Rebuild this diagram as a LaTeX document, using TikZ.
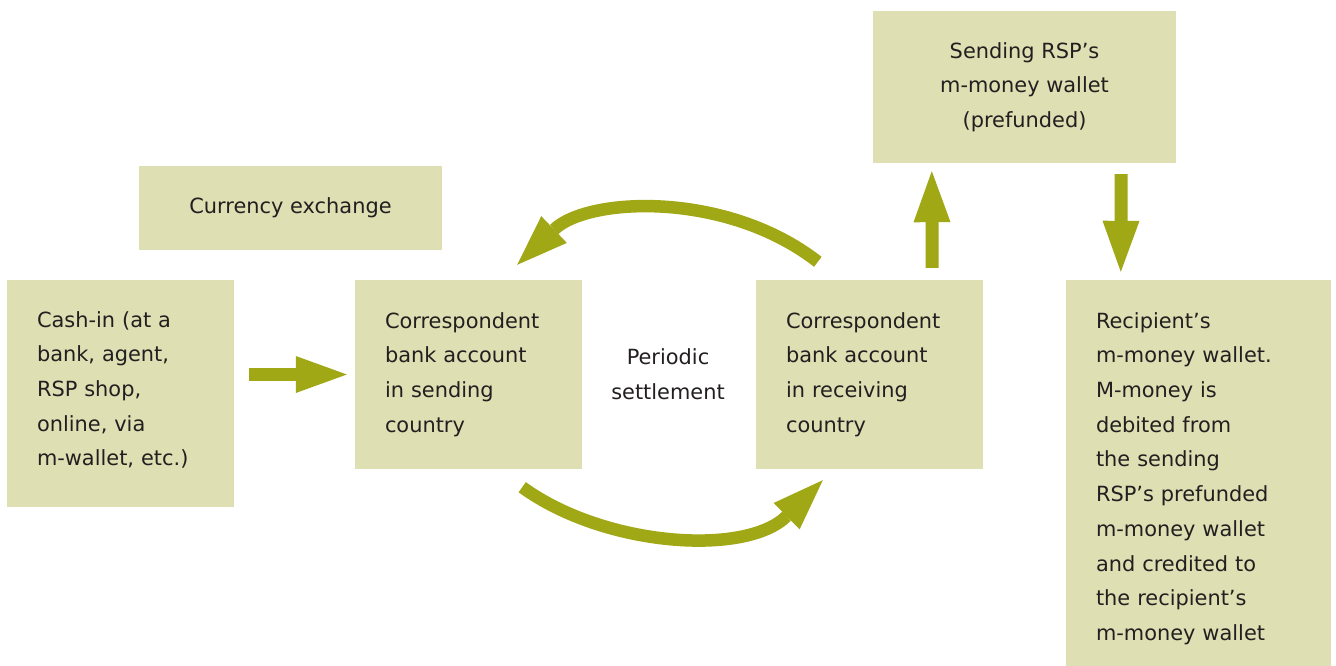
\documentclass[tikz,border=0pt]{standalone}
\usepackage{fontspec}
\setmainfont{DejaVu Sans}
\usetikzlibrary{arrows.meta}
\definecolor{boxfill}{RGB}{222,223,179}
\definecolor{arrowcol}{RGB}{160,168,22}
\definecolor{txt}{RGB}{35,31,32}
\tikzset{
  box/.style={fill=boxfill, draw=none, text=txt, inner ysep=0pt, inner xsep=30pt,
    align=left, font=\fontsize{20.9}{34.7}\selectfont},
  cbox/.style={fill=boxfill, draw=none, text=txt, inner sep=0pt,
    align=center, font=\fontsize{20.9}{34.7}\selectfont},
  bigarrow/.style={draw=arrowcol, line width=13pt,
    -{Triangle[length=51pt,width=37pt,line width=0pt]}},
  curvearrow/.style={draw=arrowcol, line width=12.5pt,
    -{Triangle[length=51pt,width=37pt,line width=0pt]}},
  lbl/.style={text=txt, align=center, inner sep=0pt, font=\fontsize{20.9}{34.7}\selectfont}
}
\begin{document}
\begin{tikzpicture}[x=1pt,y=-1pt]
\useasboundingbox (0,0) rectangle (1336,666);
\fill[white] (0,0) rectangle (1336,666);

\node[cbox, minimum width=303pt, minimum height=152pt] (sendrsp) at (1024.5,87)
  {Sending RSP’s\\m-money wallet\\(prefunded)};
\node[cbox, minimum width=303pt, minimum height=84pt] (fx) at (290.5,208)
  {Currency exchange};
\node[box, text width=167pt, minimum width=227pt, minimum height=227pt] (cash) at (120.5,393.5)
  {Cash-in (at a\\bank, agent,\\RSP shop,\\online, via\\m-wallet, etc.)\rule[-10pt]{0pt}{10pt}};
\node[box, text width=167pt, minimum width=227pt, minimum height=189pt] (sendbank) at (468.5,374.5)
  {Correspondent\\bank account\\in sending\\country};
\node[box, text width=167pt, minimum width=227pt, minimum height=189pt] (recvbank) at (869.5,374.5)
  {Correspondent\\bank account\\in receiving\\country};
\node[box, text width=205pt, minimum width=265pt, minimum height=386pt] (recip) at (1198.5,473)
  {\rule{0pt}{27pt}Recipient’s\\m-money wallet.\\M-money is\\debited from\\the sending\\RSP’s prefunded\\m-money wallet\\and credited to\\the recipient’s\\m-money wallet};
\node[lbl] (settle) at (668,374.5) {Periodic\\settlement};

\draw[bigarrow] ([xshift=15pt]cash.east |- sendbank.center) -- ([xshift=-8pt]sendbank.west);
\draw[bigarrow] ([xshift=-51pt,yshift=12pt]recvbank.north east) -- ([xshift=59pt,yshift=-8pt]sendrsp.south west);
\draw[bigarrow] ([xshift=-55pt,yshift=-11pt]sendrsp.south east) -- ([xshift=55pt,yshift=8pt]recip.north west);
\draw[curvearrow] ([xshift=62pt,yshift=18pt]recvbank.north west) .. controls +(-90.5,-70.7) and +(71.4,-68.3) .. ([xshift=-65pt,yshift=15pt]sendbank.north east);
\draw[curvearrow] ([xshift=-60pt,yshift=-18pt]sendbank.south east) .. controls +(82.2,59.7) and +(-76.8,76.3) .. ([xshift=67pt,yshift=-11pt]recvbank.south west);
\end{tikzpicture}
\end{document}
